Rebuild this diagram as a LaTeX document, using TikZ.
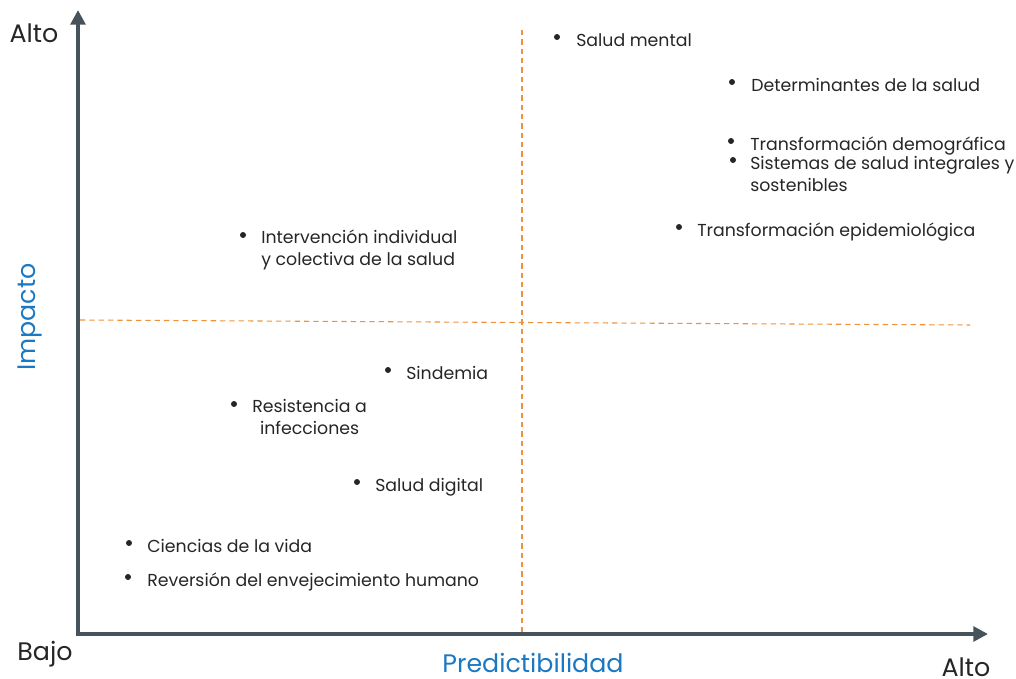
\documentclass[tikz,border=0pt]{standalone}
\usepackage{fontspec}
\setmainfont{Poppins}
\usetikzlibrary{arrows.meta}

\definecolor{axisgray}{HTML}{47535A}
\definecolor{quadorange}{HTML}{F0923A}
\definecolor{labelblue}{HTML}{1B78C2}
\definecolor{inkdark}{HTML}{262626}

\tikzset{
  axis/.style={line width=3.6pt, color=axisgray, -{Triangle[length=11pt,width=11pt]}},
  divider/.style={quadorange, dash pattern=on 4pt off 3pt, line width=0.8pt},
  topic/.style={anchor=base west, inner sep=0pt, align=left, text=inkdark,
    font=\fontsize{13}{16}\selectfont},
  dot/.style={circle, fill=inkdark, inner sep=0pt, minimum size=4.5pt},
  level/.style={anchor=base, inner sep=0pt, text=inkdark, font=\fontsize{19}{23}\selectfont},
  axisname/.style={anchor=base, inner sep=0pt, text=labelblue, font=\fontsize{19}{23}\selectfont},
}

\begin{document}
\begin{tikzpicture}[x=0.75pt, y=-0.75pt]
  \useasboundingbox (0,0) rectangle (1016,678);

  % Axes
  \coordinate (o) at (78,634);
  \coordinate (ytop) at (78,10);
  \coordinate (xend) at (988,634);
  \draw[axis] ([yshift=-1.8pt]o) -- (ytop);
  \draw[axis] ([xshift=-1.8pt]o) -- (xend);

  % Quadrant lines
  \draw[divider] (522,30) -- (522,632);
  \draw[divider] (80,320) -- (970,325);

  % Axis labels
  \node[level] (ylow) at (34,42) {Alto};
  \node[level] (xlow) at (45,660) {Bajo};
  \node[level] (xhigh) at (966,676) {Alto};
  \node[axisname] (pred) at (533,672) {Predictibilidad};
  \node[axisname, rotate=90] (imp) at (35,317) {Impacto};

  % Topics, upper right (multi-line nodes sit on their last line)
  \node[dot] (d-mental) at (557,37) {};
  \node[topic] (mental) at (576,46) {Salud mental};
  \node[dot] (d-determ) at (732,82) {};
  \node[topic] (determ) at (751,91) {Determinantes de la salud};
  \node[dot] (d-demog) at (731,141) {};
  \node[topic] (demog) at (750,150) {Transformación demográfica};
  \node[dot] (d-sist) at (733,160) {};
  \node[topic] (sist) at (750,191) {Sistemas de salud integrales y\\sostenibles};
  \node[dot] (d-epid) at (679,227) {};
  \node[topic] (epid) at (697,236) {Transformación epidemiológica};

  % Topics, upper left
  \node[dot] (d-interv) at (243,235) {};
  \node[topic] (interv) at (261,265) {Intervención individual\\y colectiva de la salud};

  % Topics, lower left
  \node[dot] (d-sind) at (388,370) {};
  \node[topic] (sind) at (406,379) {Sindemia};
  \node[dot] (d-resist) at (234,404) {};
  \node[topic, align=center] (resist) at (252,434) {Resistencia a\\infecciones};
  \node[dot] (d-digital) at (357,482) {};
  \node[topic] (digital) at (375,491) {Salud digital};
  \node[dot] (d-vida) at (129,543) {};
  \node[topic] (vida) at (147,552) {Ciencias de la vida};
  \node[dot] (d-rev) at (128,577) {};
  \node[topic] (rev) at (147,586) {Reversión del envejecimiento humano};

\end{tikzpicture}
\end{document}
